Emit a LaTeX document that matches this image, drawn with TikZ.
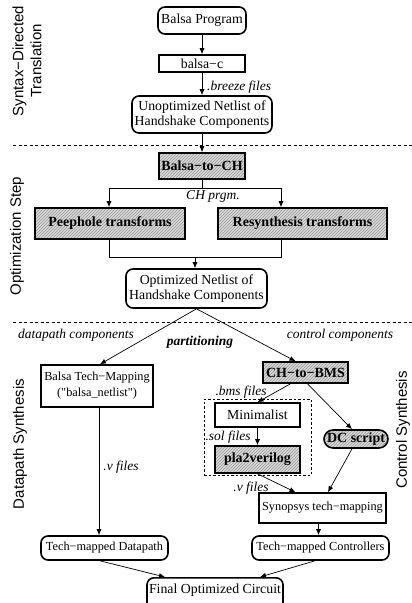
\documentclass[tikz,border=0pt]{standalone}
\usepackage{fontspec}
\setmainfont{Liberation Serif}
\newfontfamily\helv{Liberation Sans}
\usetikzlibrary{patterns,arrows.meta}
\tikzset{
  sq/.style={draw,line width=1.6pt,inner sep=0pt,align=center},
  rnd/.style={sq,rounded corners=7pt},
  hatch/.style={preaction={fill=gray!30},pattern=north east lines,pattern color=gray!80},
  arr/.style={-{Latex[length=6pt,width=5pt]},line width=0.7pt},
  ln/.style={line width=0.7pt},
  lab/.style={font=\fontsize{13.5}{15}\selectfont\itshape,inner sep=0pt},
  side/.style={font=\helv\fontsize{15}{18}\selectfont,rotate=90,align=center,inner sep=0pt},
  sep/.style={line width=0.8pt,dash pattern=on 3pt off 2.5pt},
  bld/.style={font=\fontsize{14}{16}\selectfont\bfseries}
}
\begin{document}
\begin{tikzpicture}[x=1pt,y=-1pt,font=\fontsize{13.8}{15.5}\selectfont]
\useasboundingbox (0,0) rectangle (412,603);

% side labels
\node[side] (sdt) at (27,61) {Syntax−Directed\\Translation};
\node[side] (ops) at (17,236) {Optimization Step};
\node[side] (dps) at (20,444) {Datapath Synthesis};
\node[side] (cts) at (403,430) {Control Synthesis};

% separators
\coordinate (s1a) at (13,145); \coordinate (s1b) at (412,145);
\coordinate (s2a) at (13,322); \coordinate (s2b) at (412,322);
\draw[sep] (s1a) -- (s1b);
\draw[sep] (s2a) -- (s2b);

% top part
\node[rnd,minimum width=88pt,minimum height=27pt] (prog) at (202,20.5) {Balsa Program};
\node[sq,minimum width=86pt,minimum height=17pt] (balsac) at (202,63.5) {balsa−c};
\node[rnd,minimum width=140pt,minimum height=37pt] (unopt) at (202,114.5) {Unoptimized Netlist of\\Handshake Components};
\draw[arr] (prog.south) -- (balsac.north);
\draw[arr] (balsac.south) -- (unopt.north);
\node[lab,anchor=west] (brz) at (207,87) {.breeze files};

% optimization
\node[sq,hatch,bld,minimum width=86pt,minimum height=26pt] (b2ch) at (202,166) {Balsa−to−CH};
\draw[arr] (unopt.south) -- (b2ch.north);
\node[sq,hatch,bld,minimum width=150pt,minimum height=31pt] (peep) at (110,223.5) {Peephole transforms};
\node[sq,hatch,bld,minimum width=169pt,minimum height=31pt] (resyn) at (302.5,223.5) {Resynthesis transforms};
\coordinate (sm) at (202,188);
\coordinate (sl) at (109,188);
\coordinate (sr) at (281,188);
\draw[ln] (b2ch.south) -- (sm);
\draw[ln] (sl) -- (sr);
\draw[arr] (sl) -- (sl |- peep.north);
\draw[arr] (sr) -- (sr |- resyn.north);
\node[lab] (chp) at (213,196) {CH prgm.};
\node[rnd,minimum width=141pt,minimum height=39pt] (optnet) at (196.5,288.5) {Optimized Netlist of\\Handshake Components};
\coordinate (ml) at (109,257);
\coordinate (mr) at (281,257);
\coordinate (mm) at (195,257);
\draw[ln] (ml |- peep.south) -- (ml) -- (mr) -- (mr |- resyn.south);
\draw[arr] (mm) -- (mm |- optnet.north);

% partitioning
\node[lab] (dpc) at (76,335) {datapath components};
\node[lab,font=\fontsize{13.5}{15}\selectfont\bfseries\itshape] (part) at (200,342) {partitioning};
\node[lab] (ctc) at (340,335) {control components};

\node[sq,minimum width=112pt,minimum height=42pt,font=\fontsize{12.3}{16}\selectfont] (btm) at (97,386) {Balsa Tech−Mapping\\(\textquotedbl balsa\_netlist\textquotedbl)};
\node[sq,hatch,bld,minimum width=85pt,minimum height=21pt] (ch2bms) at (305.5,372.5) {CH−to−BMS};
\draw[arr] (optnet.south) -- ([xshift=3pt]btm.north);
\draw[arr] (optnet.south) -- ([xshift=-10pt]ch2bms.north);

% control path
\node[draw,line width=0.8pt,dash pattern=on 2.5pt off 2pt,minimum width=107pt,minimum height=76pt,inner sep=0pt] (grp) at (257.5,437) {};
\node[sq,minimum width=85pt,minimum height=24pt] (minimal) at (257.5,415) {Minimalist};
\node[sq,hatch,bld,minimum width=85pt,minimum height=27pt] (pla) at (257.5,459.5) {pla2verilog};
\node[rnd,hatch,bld,rounded corners=9pt,minimum width=64pt,minimum height=18pt] (dcs) at (356,439) {DC script};
\node[lab] (bms) at (241,392) {.bms files};
\node[lab] (sol) at (228,437) {.sol files};
\draw[arr] ([xshift=-15pt]ch2bms.south) -- (minimal.north);
\draw[arr] ([xshift=2pt]ch2bms.south) -- ([xshift=-4pt]dcs.north);
\draw[arr] (minimal.south) -- (pla.north);

\node[sq,minimum width=127pt,minimum height=30pt,font=\fontsize{12.3}{15}\selectfont] (syn) at (322.5,508) {Synopsys tech−mapping};
\draw[arr] (pla.south) -- ([xshift=-27pt]syn.north);
\draw[arr] ([xshift=-4pt]dcs.south) -- ([xshift=5.5pt]syn.north);
\node[lab] (vr) at (251,488) {.v files};

% datapath
\node[lab] (vl) at (121,467) {.v files};

% outputs
\node[rnd,minimum width=127pt,minimum height=24pt,font=\fontsize{12.3}{15}\selectfont] (tdp) at (104.5,548) {Tech−mapped Datapath};
\node[rnd,minimum width=137pt,minimum height=24pt,font=\fontsize{12.3}{15}\selectfont] (tctl) at (320.5,548) {Tech−mapped Controllers};
\draw[arr] ([xshift=2pt]btm.south) -- ([xshift=2pt]btm.south |- tdp.north);
\draw[arr] ([xshift=-4pt]syn.south) -- ([xshift=-4pt]syn.south |- tctl.north);

\node[rnd,minimum width=136pt,minimum height=34pt,anchor=north] (final) at (215,577) {};
\node (finaltxt) at (215,590) {Final Optimized Circuit};
\draw[arr] ([xshift=-4.5pt]tdp.south) -- ([xshift=-50pt]final.north);
\draw[arr] ([xshift=-5.5pt]tctl.south) -- ([xshift=45pt]final.north);
\end{tikzpicture}
\end{document}
